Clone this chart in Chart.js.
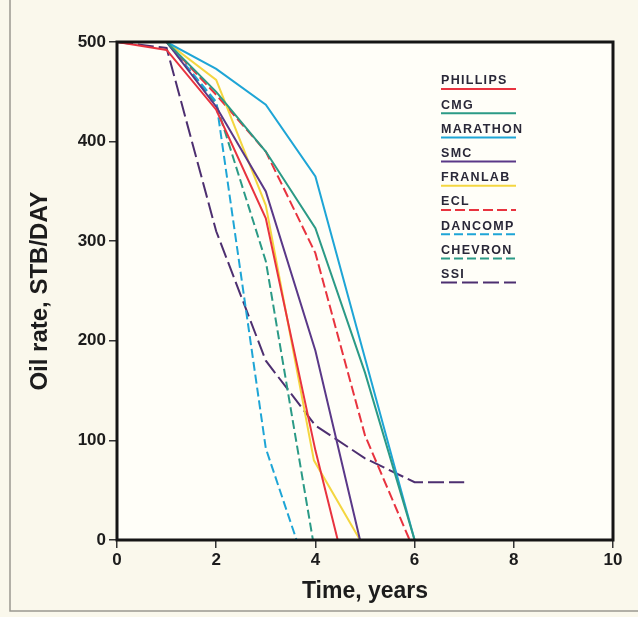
<!DOCTYPE html>
<html>
<head>
<meta charset="utf-8">
<script src="https://cdn.jsdelivr.net/npm/chart.js@4"></script>
<style>
  html, body { margin: 0; padding: 0; background: #faf8ec; }
  #wrap { width: 638px; height: 617px; }
</style>
</head>
<body>
<div id="wrap"><canvas id="myChart" width="638" height="617"></canvas></div>
<script>
// [time (years), oil rate (STB/DAY)]
const phillips = [[0, 500], [1, 492], [2, 432], [3, 323], [4, 90], [4.45, 0]]
const cmg = [[0, 500], [1, 500], [2, 450], [3, 390], [4, 313], [5, 168], [6, 0]]
const marathon = [[0, 500], [1, 500], [2, 473], [3, 437], [4, 365], [6, 0]]
const smc = [[0, 500], [1, 500], [2, 435], [3, 350], [4, 190], [4.9, 0]]
const franlab = [[0, 500], [1, 500], [2, 462], [3, 336], [3.97, 80], [4.9, 0]]
const ecl = [[0, 500], [1, 500], [2, 447], [3, 390], [4, 288], [5, 105], [5.9, 0]]
const dancomp = [[0, 500], [1, 500], [2, 440], [3, 92], [3.62, 0]]
const chevron = [[0, 500], [1, 500], [2, 438], [3, 280], [3.95, 0]]
const ssi = [[0, 500], [1, 494], [2, 310], [3, 180], [4, 115], [5, 82], [6, 58], [7, 58]]

const labels = ['PHILLIPS', 'CMG', 'MARATHON', 'SMC', 'FRANLAB', 'ECL', 'DANCOMP', 'CHEVRON', 'SSI']
const xTicks = [0, 2, 4, 6, 8, 10]
const yTicks = [0, 100, 200, 300, 400, 500]

const styles = {
  PHILLIPS: { color: '#e8333f', dash: [] },
  CMG: { color: '#2b9a86', dash: [] },
  MARATHON: { color: '#1ea5d6', dash: [] },
  SMC: { color: '#5a3888', dash: [] },
  FRANLAB: { color: '#f4d640', dash: [] },
  ECL: { color: '#e8333f', dash: [10, 4] },
  DANCOMP: { color: '#1ea5d6', dash: [9, 4] },
  CHEVRON: { color: '#2b9a86', dash: [9, 4] },
  SSI: { color: '#4d2f70', dash: [16, 5] }
}

const series = [phillips, cmg, marathon, smc, franlab, ecl, dancomp, chevron, ssi]

const datasets = series.map((pts, i) => {
  const st = styles[labels[i]]
  return {
    label: labels[i],
    data: pts.map(p => ({ x: p[0], y: p[1] })),
    borderColor: st.color,
    borderDash: st.dash,
    borderWidth: 2,
    pointRadius: 0,
    tension: 0,
    fill: false
  }
})

// background + page edge lines
const paper = {
  id: 'paper',
  beforeDraw(chart) {
    const { ctx, chartArea: a } = chart
    ctx.save()
    ctx.fillStyle = '#faf8ec'
    ctx.fillRect(0, 0, chart.width, chart.height)
    ctx.fillStyle = '#fffef8'
    ctx.fillRect(a.left, a.top, a.right - a.left, a.bottom - a.top)
    ctx.strokeStyle = '#9a9890'
    ctx.lineWidth = 1.5
    ctx.beginPath()
    ctx.moveTo(10, 0)
    ctx.lineTo(10, 611)
    ctx.lineTo(638, 611)
    ctx.stroke()
    ctx.restore()
  }
}

// frame around the plot and the underlined legend
const frameAndKey = {
  id: 'frameAndKey',
  afterDraw(chart) {
    const { ctx, chartArea: a } = chart
    ctx.save()
    ctx.strokeStyle = '#151515'
    ctx.lineWidth = 3
    ctx.strokeRect(a.left, a.top, a.right - a.left, a.bottom - a.top)

    ctx.font = 'bold 12.5px "Liberation Sans", Arial, sans-serif'
    ctx.letterSpacing = '1.3px'
    ctx.textBaseline = 'middle'
    ctx.textAlign = 'left'
    chart.data.datasets.forEach((ds, i) => {
      const y = 81 + i * 24.2
      ctx.fillStyle = '#2a2838'
      ctx.fillText(ds.label, 441, y)
      ctx.strokeStyle = ds.borderColor
      ctx.lineWidth = 2
      ctx.setLineDash(ds.borderDash)
      ctx.beginPath()
      ctx.moveTo(441, y + 8)
      ctx.lineTo(516, y + 8)
      ctx.stroke()
      ctx.setLineDash([])
    })
    ctx.restore()
  }
}

const ctx = document.getElementById('myChart')
new Chart(ctx, {
  type: 'line',
  data: { datasets },
  plugins: [paper, frameAndKey],
  options: {
    responsive: false,
    animation: false,
    layout: { padding: { left: 0, top: 42, right: 25, bottom: 0 } },
    plugins: { legend: { display: false }, tooltip: { enabled: false } },
    scales: {
      x: {
        type: 'linear',
        min: 0,
        max: 10,
        afterFit: s => { s.height = 77 },
        afterBuildTicks: s => { s.ticks = xTicks.map(v => ({ value: v })) },
        grid: { drawOnChartArea: false, tickLength: 8, color: '#333', lineWidth: 1.5 },
        border: { display: false },
        ticks: { color: '#1c1c1c', padding: 2, font: { family: 'Liberation Sans', size: 17, weight: 'bold' } },
        title: {
          display: true,
          text: 'Time, years',
          color: '#1c1c1c',
          padding: { top: 0, bottom: 12 },
          font: { family: 'Liberation Sans', size: 23, weight: 'bold' }
        }
      },
      y: {
        min: 0,
        max: 500,
        afterFit: s => { s.width = 117 },
        afterBuildTicks: s => { s.ticks = yTicks.map(v => ({ value: v })) },
        grid: { drawOnChartArea: false, tickLength: 8, color: '#333', lineWidth: 1.5 },
        border: { display: false },
        ticks: { color: '#1c1c1c', padding: 3, font: { family: 'Liberation Sans', size: 17, weight: 'bold' } },
        title: {
          display: true,
          text: 'Oil rate, STB/DAY',
          color: '#1c1c1c',
          padding: { top: 26, bottom: 0 },
          font: { family: 'Liberation Sans', size: 24, weight: 'bold' }
        }
      }
    }
  }
})
</script>
</body>
</html>
